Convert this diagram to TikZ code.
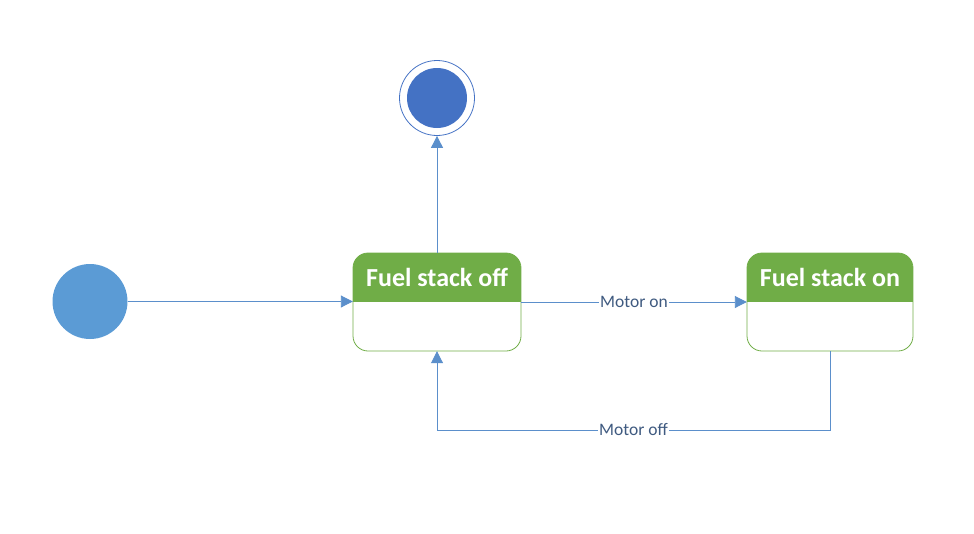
\documentclass[tikz,border=0pt]{standalone}
\usepackage{fontspec}
\setmainfont{Carlito}
\usetikzlibrary{arrows.meta,positioning}
\definecolor{hdr}{HTML}{70AD47}
\definecolor{lne}{HTML}{5B8FCB}
\definecolor{initc}{HTML}{5B9BD5}
\definecolor{finc}{HTML}{4472C4}
\definecolor{lbl}{HTML}{3F5A80}
\begin{document}
\begin{tikzpicture}[x=1pt,y=-1pt,
  conn/.style={draw=lne,line width=0.9pt,-{Triangle[length=12pt,width=12pt]}},
  lab/.style={fill=white,text=lbl,font=\fontsize{17.5}{20}\selectfont,inner sep=1pt},
  hdrtext/.style={text=white,font=\bfseries\fontsize{26}{30}\selectfont}]
\useasboundingbox (0,0) rectangle (974,533);
% initial
\node[circle,fill=initc,minimum size=75pt,inner sep=0pt] (init) at (90,301.5) {};
% final
\node[circle,draw=finc,line width=0.8pt,minimum size=75pt,inner sep=0pt] (fin) at (437,98) {};
\node[circle,fill=finc,minimum size=60pt,inner sep=0pt] (finin) at (437,98) {};
% state 1
\coordinate (s1nw) at (353,253);
\coordinate (s1se) at (521,351);
\begin{scope}
\clip[rounded corners=15pt] (s1nw) rectangle (s1se);
\fill[hdr] (353,253) rectangle (521,302);
\end{scope}
\draw[hdr,line width=0.8pt,rounded corners=15pt] (s1nw) rectangle (s1se);
\node[hdrtext] (t1) at (437,277) {Fuel stack off};
\node[inner sep=0pt,minimum width=168pt,minimum height=98pt] (s1) at (437,302) {};
% state 2
\coordinate (s2nw) at (747,253);
\coordinate (s2se) at (913,351);
\begin{scope}
\clip[rounded corners=15pt] (s2nw) rectangle (s2se);
\fill[hdr] (747,253) rectangle (913,302);
\end{scope}
\draw[hdr,line width=0.8pt,rounded corners=15pt] (s2nw) rectangle (s2se);
\node[hdrtext] (t2) at (830,277) {Fuel stack on};
\node[inner sep=0pt,minimum width=166pt,minimum height=98pt] (s2) at (830,302) {};
% connectors
\draw[conn] (init.east) -- (s1.west |- init.east);
\draw[conn] (s1.north) -- (fin.south);
\draw[conn] (s1.east) -- node[lab] {Motor on} (s2.west);
\coordinate (c1) at (830,430);
\coordinate (c2) at (437,430);
\draw[conn] (s2.south) -- (c1) -- node[lab,pos=0.5] {Motor off} (c2) -- (s1.south);
\end{tikzpicture}
\end{document}
